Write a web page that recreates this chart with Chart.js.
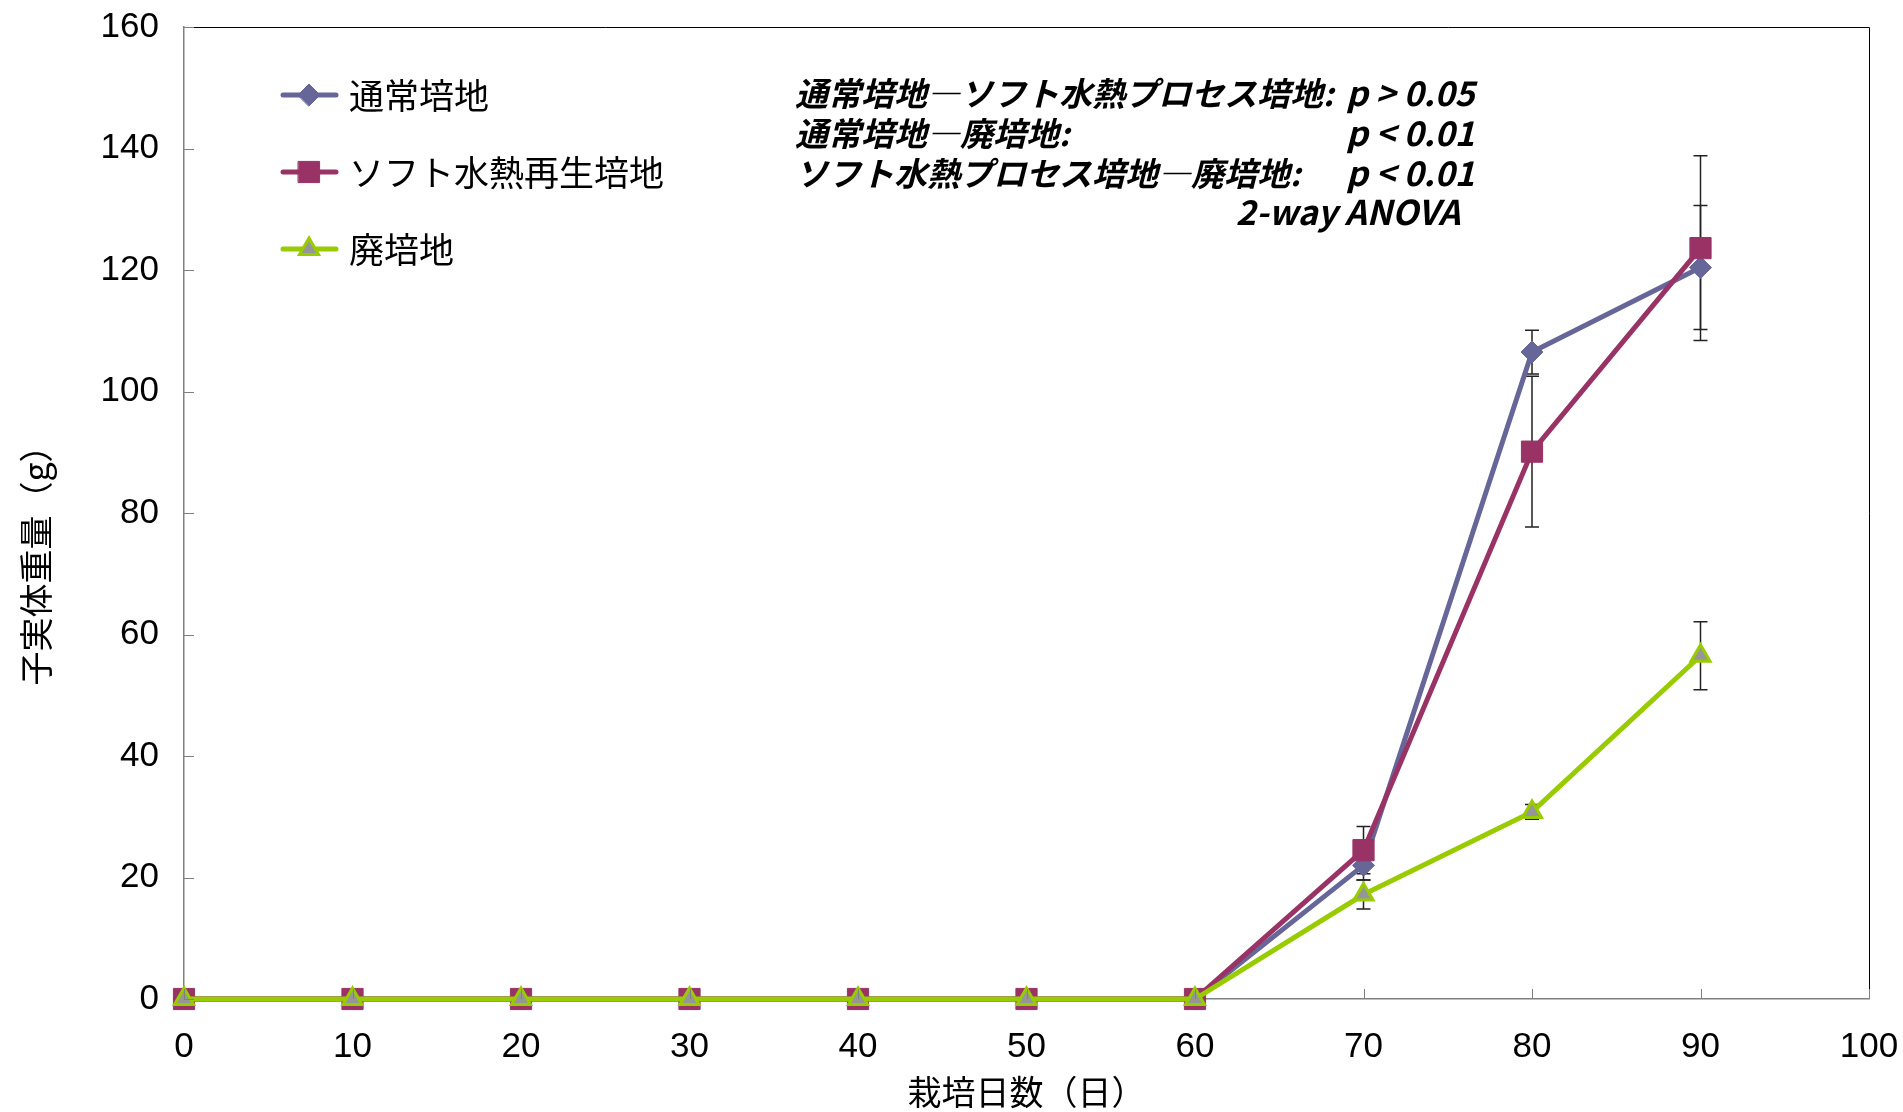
<!DOCTYPE html>
<html>
<head>
<meta charset="utf-8">
<script src="https://cdn.jsdelivr.net/npm/chart.js@4.4.0/dist/chart.umd.min.js"></script>
<style>
  html, body { margin: 0; padding: 0; background: #fff; }
  #wrap { width: 1903px; height: 1112px; }
</style>
</head>
<body>
<div id="wrap"><canvas id="myChart"></canvas></div>
<script>
// cultivation days and fruit body weight (g), mean and SD per medium
let days = [0, 10, 20, 30, 40, 50, 60, 70, 80, 90];
let normalWeight = [0, 0, 0, 0, 0, 0, 0, 22.0, 106.5, 120.4];
let normalSd     = [0, 0, 0, 0, 0, 0, 0, 2.4, 3.6, 10.2];
let softWeight   = [0, 0, 0, 0, 0, 0, 0, 24.5, 90.1, 123.6];
let softSd       = [0, 0, 0, 0, 0, 0, 0, 3.9, 12.4, 15.2];
let spentWeight  = [0, 0, 0, 0, 0, 0, 0, 17.2, 30.8, 56.5];
let spentSd      = [0, 0, 0, 0, 0, 0, 0, 2.4, 1.2, 5.6];

let seriesNames = ['通常培地', 'ソフト水熱再生培地', '廃培地'];
let lineColors = ['#666699', '#993366', '#99CC00'];
let markerFills = ['#666699', '#993366', '#969696'];
let markerShapes = ['rectRot', 'rect', 'triangle'];
let markerSizes = [11, 15, 11];

let statLeft = ['通常培地―ソフト水熱プロセス培地:', '通常培地―廃培地:', 'ソフト水熱プロセス培地―廃培地:', ''];
let statRight = ['p > 0.05', 'p < 0.01', 'p < 0.01', '2-way ANOVA'];

let xTitle = '栽培日数（日）';
let yTitle = '子実体重量（g）';

const jpFont = '"Noto Sans CJK JP", "Noto Sans", sans-serif';
const numFont = '"Liberation Sans Narrow", "Liberation Sans", sans-serif';

function points(values) {
    return days.map((d, i) => ({ x: d, y: values[i] }));
}

function makeSet(i, values, sd, order) {
    return {
        label: seriesNames[i],
        data: points(values),
        sd: sd,
        order: order,
        borderColor: lineColors[i],
        backgroundColor: markerFills[i],
        borderWidth: 5,
        tension: 0,
        pointStyle: markerShapes[i],
        pointRadius: markerSizes[i],
        pointHoverRadius: markerSizes[i],
        pointBackgroundColor: markerFills[i],
        pointBorderColor: lineColors[i],
        pointBorderWidth: i === 2 ? 3 : 1,
        clip: false
    };
}

// error bars, inner tick marks, frame, legend and the ANOVA note
let extras = {
    id: 'extras',
    beforeDatasetsDraw(chart) {
        const ctx = chart.ctx;
        const y = chart.scales.y;
        ctx.save();
        ctx.strokeStyle = '#222';
        ctx.lineWidth = 1.5;
        chart.data.datasets.forEach((ds, di) => {
            const meta = chart.getDatasetMeta(di);
            meta.data.forEach((pt, j) => {
                const e = ds.sd[j];
                if (!e) return;
                const v = ds.data[j].y;
                const top = y.getPixelForValue(v + e);
                const bot = y.getPixelForValue(v - e);
                ctx.beginPath();
                ctx.moveTo(pt.x, top); ctx.lineTo(pt.x, bot);
                ctx.moveTo(pt.x - 7, top); ctx.lineTo(pt.x + 7, top);
                ctx.moveTo(pt.x - 7, bot); ctx.lineTo(pt.x + 7, bot);
                ctx.stroke();
            });
        });
        ctx.restore();
    },
    afterDraw(chart) {
        const ctx = chart.ctx;
        const a = chart.chartArea;
        const xs = chart.scales.x, ys = chart.scales.y;
        ctx.save();

        // frame on top and right
        ctx.strokeStyle = '#000';
        ctx.lineWidth = 1;
        ctx.beginPath();
        ctx.moveTo(Math.round(a.left) + 0.5, Math.round(a.top) + 0.5);
        ctx.lineTo(Math.round(a.right) + 0.5, Math.round(a.top) + 0.5);
        ctx.lineTo(Math.round(a.right) + 0.5, Math.round(a.bottom));
        ctx.stroke();

        // tick marks pointing inward
        ctx.strokeStyle = '#808080';
        ctx.beginPath();
        ys.ticks.forEach(t => {
            const py = Math.round(ys.getPixelForValue(t.value)) + 0.5;
            ctx.moveTo(a.left, py); ctx.lineTo(a.left + 10, py);
        });
        xs.ticks.forEach(t => {
            const px = Math.round(xs.getPixelForValue(t.value)) + 0.5;
            ctx.moveTo(px, a.bottom); ctx.lineTo(px, a.bottom - 10);
        });
        ctx.stroke();

        // y axis title
        ctx.fillStyle = '#000';
        ctx.font = '34px ' + jpFont;
        ctx.textAlign = 'center';
        ctx.textBaseline = 'middle';
        ctx.translate(36, 557);
        ctx.rotate(-Math.PI / 2);
        ctx.fillText(yTitle, 0, 0);
        ctx.setTransform(1, 0, 0, 1, 0, 0);

        // legend
        const rows = [95, 172, 249];
        chart.data.datasets.forEach((ds, i) => {
            const ry = rows[i];
            ctx.strokeStyle = lineColors[i];
            ctx.lineWidth = 5;
            ctx.lineCap = 'round';
            ctx.beginPath();
            ctx.moveTo(283, ry); ctx.lineTo(336, ry);
            ctx.stroke();
            ctx.fillStyle = markerFills[i];
            ctx.strokeStyle = lineColors[i];
            ctx.lineWidth = i === 2 ? 3 : 1;
            Chart.helpers.drawPoint(ctx, {
                pointStyle: markerShapes[i], radius: markerSizes[i], rotation: 0, borderWidth: ctx.lineWidth
            }, 309, ry);
            ctx.fillStyle = '#000';
            ctx.font = '35px ' + jpFont;
            ctx.textAlign = 'left';
            ctx.textBaseline = 'middle';
            ctx.fillText(ds.label, 349, ry + 1);
        });

        // two-way ANOVA note
        ctx.fillStyle = '#000';
        ctx.textBaseline = 'middle';
        const lineY = [93, 133, 173, 212];
        statLeft.forEach((s, k) => {
            ctx.font = 'italic bold 33px ' + jpFont;
            ctx.textAlign = 'left';
            if (s) ctx.fillText(s, 795, lineY[k]);
            ctx.font = 'italic bold 34px ' + jpFont;
            if (k === 3) {
                ctx.textAlign = 'right';
                ctx.fillText(statRight[k], 1460, lineY[k]);
            } else {
                ctx.fillText(statRight[k], 1346, lineY[k]);
            }
        });
        ctx.restore();
    }
};

let chart = new Chart(document.getElementById('myChart').getContext('2d'), {
    type: 'line',
    data: {
        datasets: [
            makeSet(0, normalWeight, normalSd, 3),
            makeSet(1, softWeight, softSd, 2),
            makeSet(2, spentWeight, spentSd, 1)
        ]
    },
    options: {
        responsive: true,
        maintainAspectRatio: false,
        animation: false,
        layout: { padding: { top: 27, right: 34, left: 0, bottom: 0 } },
        plugins: {
            legend: { display: false },
            tooltip: { enabled: false }
        },
        scales: {
            x: {
                type: 'linear',
                min: 0,
                max: 100,
                grid: { display: false, drawTicks: false },
                border: { display: true, color: '#808080', width: 1.5 },
                ticks: { stepSize: 10, padding: 27, color: '#000', font: { family: numFont, size: 35 } },
                title: { display: true, text: xTitle, color: '#000', padding: 0, font: { family: jpFont, size: 34 } },
                afterFit(scale) {
                    scale.height = 113;
                    scale.paddingLeft = 0;
                    scale.paddingRight = 0;
                }
            },
            y: {
                min: 0,
                max: 160,
                grid: { display: false, drawTicks: false },
                border: { display: true, color: '#808080', width: 1.5 },
                ticks: { stepSize: 20, padding: 25, color: '#000', font: { family: numFont, size: 35 } },
                afterFit(scale) {
                    scale.width = 184;
                    scale.paddingTop = 0;
                    scale.paddingBottom = 0;
                }
            }
        }
    },
    plugins: [extras]
});
</script>
</body>
</html>
